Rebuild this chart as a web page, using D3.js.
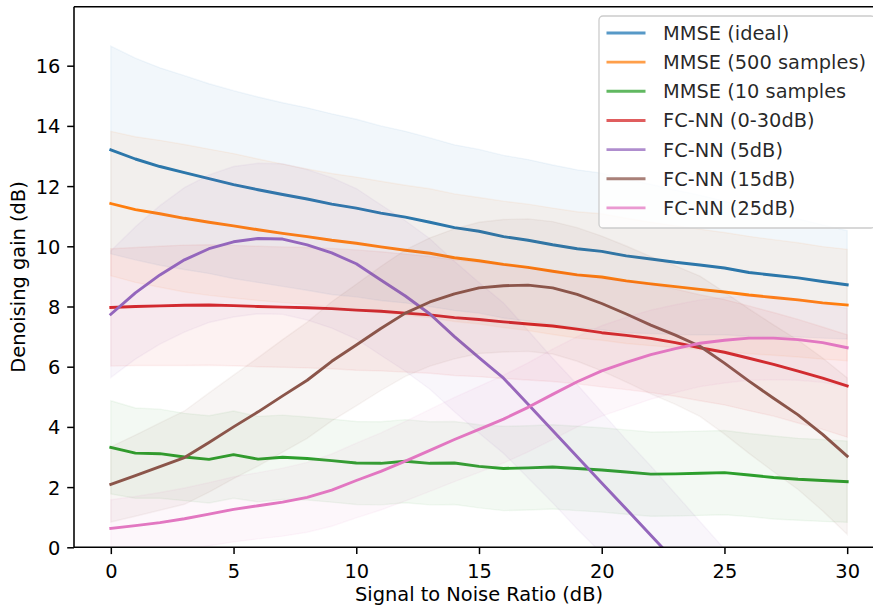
<!DOCTYPE html>
<html>
<head>
<meta charset="utf-8">
<script src="https://cdn.jsdelivr.net/npm/d3@7"></script>
<style>
  html, body { margin: 0; padding: 0; background: #fff; }
  svg { display: block; font-family: "DejaVu Sans", sans-serif; }
</style>
</head>
<body>
<svg id="chart" width="873" height="610"></svg>
<script>
// SNR grid (dB)
const snr = [0, 1, 2, 3, 4, 5, 6, 7, 8, 9, 10, 11, 12, 13, 14, 15, 16, 17, 18, 19, 20, 21, 22, 23, 24, 25, 26, 27, 28, 29, 30];

// Mean denoising gain (dB) per method
const mmseIdeal = [13.20, 12.90, 12.65, 12.45, 12.25, 12.05, 11.88, 11.72, 11.57, 11.40, 11.27, 11.10, 10.97, 10.80, 10.62, 10.50, 10.32, 10.20, 10.05, 9.92, 9.83, 9.68, 9.58, 9.47, 9.38, 9.28, 9.13, 9.04, 8.95, 8.83, 8.72];
const mmse500 = [11.42, 11.22, 11.08, 10.93, 10.80, 10.68, 10.55, 10.43, 10.32, 10.20, 10.10, 9.98, 9.87, 9.77, 9.62, 9.52, 9.40, 9.30, 9.17, 9.05, 8.98, 8.85, 8.75, 8.66, 8.57, 8.48, 8.38, 8.30, 8.22, 8.12, 8.05];
const mmse10 = [3.32, 3.13, 3.11, 3.00, 2.92, 3.08, 2.93, 2.99, 2.95, 2.88, 2.80, 2.79, 2.86, 2.79, 2.80, 2.69, 2.62, 2.64, 2.67, 2.62, 2.57, 2.50, 2.43, 2.44, 2.46, 2.48, 2.40, 2.32, 2.26, 2.22, 2.18];
const fcAll = [7.97, 8.00, 8.02, 8.04, 8.05, 8.03, 8.00, 7.98, 7.96, 7.93, 7.88, 7.84, 7.78, 7.72, 7.63, 7.57, 7.49, 7.42, 7.35, 7.25, 7.13, 7.04, 6.94, 6.80, 6.63, 6.48, 6.28, 6.08, 5.85, 5.62, 5.36];
const fc5 = [7.74, 8.45, 9.05, 9.55, 9.92, 10.15, 10.26, 10.24, 10.05, 9.78, 9.42, 8.88, 8.35, 7.75, 7.00, 6.30, 5.62, 4.75, 3.88, 3.01, 2.14, 1.27, 0.40, -0.47, -1.34, -2.21, -3.08, -3.95, -4.82, -5.69, -6.56];
const fc15 = [2.09, 2.38, 2.68, 2.98, 3.48, 4.00, 4.50, 5.03, 5.55, 6.18, 6.72, 7.27, 7.78, 8.15, 8.42, 8.62, 8.69, 8.71, 8.62, 8.40, 8.10, 7.75, 7.38, 7.05, 6.68, 6.12, 5.52, 4.95, 4.40, 3.75, 3.03];
const fc25 = [0.63, 0.72, 0.82, 0.95, 1.10, 1.26, 1.38, 1.50, 1.66, 1.90, 2.22, 2.52, 2.86, 3.22, 3.58, 3.92, 4.26, 4.65, 5.08, 5.50, 5.86, 6.14, 6.40, 6.60, 6.78, 6.88, 6.95, 6.95, 6.90, 6.80, 6.63];

// Standard deviation (dB) per method, shaded as mean ± std
const sdIdeal = [3.45, 3.35, 3.28, 3.22, 3.15, 3.12, 3.08, 3.05, 3.03, 3.00, 2.95, 2.90, 2.85, 2.80, 2.75, 2.72, 2.70, 2.68, 2.65, 2.62, 2.60, 2.55, 2.48, 2.40, 2.32, 2.22, 2.12, 2.04, 1.96, 1.88, 1.80];
const sd500 = [2.40, 2.42, 2.44, 2.45, 2.43, 2.40, 2.35, 2.30, 2.25, 2.22, 2.20, 2.18, 2.16, 2.14, 2.12, 2.10, 2.10, 2.10, 2.10, 2.10, 2.10, 2.08, 2.05, 2.02, 2.00, 1.98, 1.95, 1.92, 1.90, 1.87, 1.85];
const sd10 = [1.55, 1.50, 1.48, 1.45, 1.45, 1.45, 1.42, 1.40, 1.38, 1.38, 1.38, 1.38, 1.38, 1.38, 1.38, 1.38, 1.40, 1.40, 1.40, 1.40, 1.40, 1.40, 1.40, 1.40, 1.40, 1.40, 1.38, 1.38, 1.36, 1.36, 1.35];
const sdAll = [1.95, 1.96, 1.98, 2.00, 2.00, 2.00, 2.00, 2.00, 2.00, 2.00, 2.00, 1.98, 1.96, 1.94, 1.92, 1.90, 1.88, 1.86, 1.84, 1.82, 1.80, 1.80, 1.80, 1.78, 1.76, 1.75, 1.74, 1.72, 1.72, 1.70, 1.70];
const sd5 = [2.10, 2.20, 2.30, 2.40, 2.45, 2.50, 2.50, 2.50, 2.50, 2.50, 2.50, 2.50, 2.50, 2.50, 2.50, 2.50, 2.50, 2.45, 2.40, 2.40, 2.35, 2.30, 2.30, 2.25, 2.20, 2.15, 2.10, 2.10, 2.05, 2.00, 2.00];
const sd15 = [1.25, 1.35, 1.45, 1.55, 1.65, 1.72, 1.80, 1.87, 1.93, 1.98, 2.02, 2.06, 2.10, 2.13, 2.16, 2.18, 2.20, 2.20, 2.20, 2.22, 2.24, 2.26, 2.28, 2.30, 2.33, 2.36, 2.40, 2.44, 2.48, 2.54, 2.60];
const sd25 = [0.95, 0.97, 1.00, 1.02, 1.05, 1.08, 1.10, 1.13, 1.16, 1.20, 1.24, 1.28, 1.32, 1.36, 1.40, 1.43, 1.46, 1.48, 1.50, 1.50, 1.50, 1.50, 1.48, 1.46, 1.44, 1.42, 1.40, 1.38, 1.35, 1.32, 1.30];

const labels = ["MMSE (ideal)", "MMSE (500 samples)", "MMSE (10 samples", "FC-NN (0-30dB)", "FC-NN (5dB)", "FC-NN (15dB)", "FC-NN (25dB)"];
const colors = ["#1f77b4", "#ff7f0e", "#2ca02c", "#d62728", "#9467bd", "#8c564b", "#e377c2"];
const xTicks = [0, 5, 10, 15, 20, 25, 30];
const yTicks = [0, 2, 4, 6, 8, 10, 12, 14, 16];

const means = [mmseIdeal, mmse500, mmse10, fcAll, fc5, fc15, fc25];
const sds = [sdIdeal, sd500, sd10, sdAll, sd5, sd15, sd25];

const series = labels.map((label, i) => ({
  label,
  color: colors[i],
  points: snr.map((s, j) => ({ x: s, y: means[i][j], sd: sds[i][j] }))
}));

const fs = 19.4;
const plotLeft = 74, plotRight = 884, plotTop = 6.7, plotBottom = 547.3;

const svg = d3.select("#chart");
const x = d3.scaleLinear().domain([-1.5, 31.5]).range([plotLeft, plotRight]);
const y = d3.scaleLinear().domain([0, 17.96]).range([plotBottom, plotTop]);

svg.append("defs").append("clipPath").attr("id", "plot-clip")
  .append("rect").attr("x", plotLeft).attr("y", plotTop)
  .attr("width", plotRight - plotLeft).attr("height", plotBottom - plotTop);

const plot = svg.append("g").attr("clip-path", "url(#plot-clip)");

const line = d3.line().x(d => x(d.x)).y(d => y(d.y));
const band = d3.area().x(d => x(d.x)).y0(d => y(d.y - d.sd)).y1(d => y(d.y + d.sd));

series.forEach(s => {
  plot.append("path").datum(s.points)
    .attr("d", line)
    .attr("fill", "none")
    .attr("stroke", s.color)
    .attr("stroke-width", 2.9)
    .attr("stroke-linejoin", "round")
    .attr("stroke-linecap", "square");
  plot.append("path").datum(s.points)
    .attr("d", band)
    .attr("fill", s.color)
    .attr("fill-opacity", 0.06)
    .attr("stroke", s.color)
    .attr("stroke-opacity", 0.06)
    .attr("stroke-width", 1.4);
});

// Axes
const tickLen = 6.8, tickPad = 6.8;
const xAxis = d3.axisBottom(x).tickValues(xTicks).tickSize(tickLen).tickPadding(tickPad);
const yAxis = d3.axisLeft(y).tickValues(yTicks).tickSize(tickLen).tickPadding(tickPad);

const gx = svg.append("g").attr("transform", `translate(0,${plotBottom})`).call(xAxis);
const gy = svg.append("g").attr("transform", `translate(${plotLeft},0)`).call(yAxis);

[gx, gy].forEach(g => {
  g.select(".domain").remove();
  g.selectAll(".tick line").attr("stroke", "#000").attr("stroke-width", 1.5);
  g.selectAll(".tick text").attr("fill", "#000").attr("font-size", fs)
    .attr("font-family", "DejaVu Sans");
});
gx.selectAll(".tick text").attr("dy", null).attr("y", tickLen + tickPad + 17);
gy.selectAll(".tick text").attr("dy", "0.36em");

// Spines (left, bottom, top; right lies beyond the visible canvas)
const spines = svg.append("g").attr("stroke", "#000").attr("stroke-width", 1.56).attr("fill", "none");
spines.append("line").attr("x1", plotLeft).attr("x2", plotLeft).attr("y1", plotTop).attr("y2", plotBottom);
spines.append("line").attr("x1", plotLeft).attr("x2", plotRight).attr("y1", plotBottom).attr("y2", plotBottom);
spines.append("line").attr("x1", plotLeft).attr("x2", plotRight).attr("y1", plotTop).attr("y2", plotTop);
spines.append("line").attr("x1", plotRight).attr("x2", plotRight).attr("y1", plotTop).attr("y2", plotBottom);

// Axis titles
svg.append("text")
  .attr("x", (plotLeft + plotRight) / 2).attr("y", 601)
  .attr("text-anchor", "middle").attr("font-size", fs).attr("fill", "#000")
  .text("Signal to Noise Ratio (dB)");
svg.append("text")
  .attr("transform", `translate(25,${(plotTop + plotBottom) / 2}) rotate(-90)`)
  .attr("text-anchor", "middle").attr("font-size", fs).attr("fill", "#000")
  .text("Denoising gain (dB)");

// Legend
const legend = svg.append("g");
legend.append("rect")
  .attr("x", 599).attr("y", 16).attr("width", 276).attr("height", 212)
  .attr("rx", 4).attr("ry", 4)
  .attr("fill", "#fff").attr("fill-opacity", 0.8)
  .attr("stroke", "#cccccc").attr("stroke-width", 1.3);

const rows = legend.selectAll("g.row").data(series).join("g")
  .attr("class", "row")
  .attr("transform", (d, i) => `translate(0,${33 + i * 29.15})`);
rows.append("line")
  .attr("x1", 606.5).attr("x2", 645.5).attr("y1", 0).attr("y2", 0)
  .attr("stroke", d => d.color).attr("stroke-width", 2.9).attr("stroke-opacity", 0.75);
rows.append("text")
  .attr("x", 663).attr("y", 0).attr("dy", "0.36em")
  .attr("font-size", fs).attr("fill", "#000").attr("fill-opacity", 0.85)
  .text(d => d.label);
</script>
</body>
</html>
